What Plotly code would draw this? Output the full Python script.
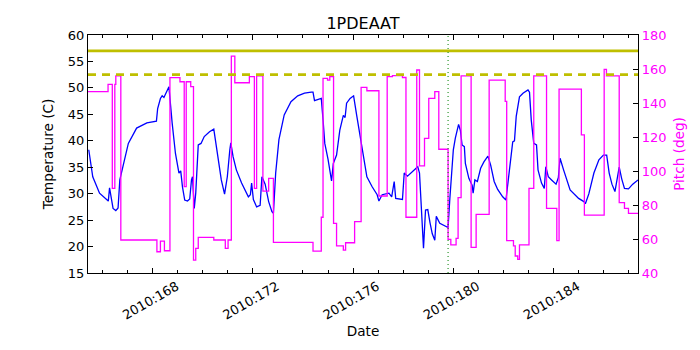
import plotly.graph_objects as go

# temperature trace (day of year 2010, deg C)
temp_day = [165.45, 165.61, 165.88, 166.18, 166.23, 166.28, 166.35, 166.42, 166.53, 166.62,
            166.69, 166.83, 167.03, 167.36, 167.77, 168.15, 168.20, 168.31, 168.38, 168.45,
            168.51, 168.65, 168.78, 168.91, 169.05, 169.12, 169.19, 169.28, 169.39, 169.48,
            169.55, 169.59, 169.66, 169.72, 169.82, 169.93, 170.06, 170.27, 170.44, 170.60,
            170.74, 170.87, 170.98, 171.08, 171.12, 171.21, 171.34, 171.55, 171.82, 171.90,
            171.95, 172.02, 172.15, 172.29, 172.36, 172.49, 172.63, 172.76, 172.82, 172.91,
            173.04, 173.25, 173.52, 173.79, 174.06, 174.33, 174.40, 174.46, 174.66, 174.73,
            174.80, 174.87, 175.00, 175.14, 175.21, 175.34, 175.47, 175.61, 175.68, 175.74,
            175.88, 176.02, 176.15, 176.28, 176.42, 176.55, 176.76, 176.96, 177.03, 177.16,
            177.43, 177.54, 177.64, 177.70, 177.97, 178.04, 178.17, 178.38, 178.58, 178.65,
            178.75, 178.81, 178.89, 178.98, 179.07, 179.16, 179.26, 179.32, 179.46, 179.79,
            179.86, 180.00, 180.08, 180.21, 180.28, 180.35, 180.44, 180.48, 180.62, 180.75,
            180.79, 180.86, 180.96, 181.09, 181.22, 181.38, 181.49, 181.63, 181.77, 181.97,
            182.10, 182.23, 182.37, 182.44, 182.51, 182.64, 182.78, 182.98, 183.04, 183.11,
            183.21, 183.32, 183.38, 183.52, 183.63, 183.69, 183.79, 183.92, 184.10, 184.19,
            184.26, 184.40, 184.66, 185.00, 185.21, 185.27, 185.41, 185.61, 185.81, 185.99,
            186.12, 186.22, 186.33, 186.45, 186.55, 186.62, 186.72, 186.83, 186.99, 187.16,
            187.37]
temp = [38.3, 33.2, 30.1, 28.8, 28.6, 31.1, 28.7, 27.2, 26.8, 27.3,
        32.6, 35.7, 39.5, 42.4, 43.4, 43.7, 46.1, 48.0, 48.5, 48.2,
        48.9, 50.2, 43.3, 37.6, 33.9, 34.3, 31.3, 28.8, 28.6, 29.0,
        32.6, 33.2, 27.2, 30.1, 39.2, 39.5, 40.8, 41.7, 42.2, 37.0,
        32.6, 29.9, 33.2, 38.3, 39.6, 37.0, 34.5, 32.0, 29.4, 29.8,
        32.0, 28.9, 27.5, 27.8, 33.2, 31.8, 28.5, 26.6, 26.3, 33.9,
        40.2, 44.9, 47.4, 48.5, 49.0, 49.2, 49.2, 47.6, 47.8, 48.0,
        44.0, 39.5, 36.5, 32.4, 35.7, 37.3, 42.0, 44.8, 44.4, 47.1,
        48.0, 48.5, 44.6, 41.1, 37.0, 33.2, 31.3, 29.8, 28.6, 29.8,
        30.1, 29.4, 32.3, 29.1, 28.9, 33.9, 33.3, 34.2, 35.1, 33.9,
        23.1, 19.7, 26.9, 27.0, 24.5, 22.4, 21.2, 25.7, 24.4, 23.6,
        29.0, 38.3, 40.5, 43.1, 42.0, 39.2, 38.9, 35.7, 32.9, 31.6,
        30.1, 32.6, 32.3, 34.8, 36.0, 37.1, 35.4, 32.3, 30.8, 29.4,
        28.8, 33.9, 39.8, 40.0, 44.6, 48.3, 49.0, 49.6, 49.2, 43.9,
        39.5, 39.2, 34.5, 32.0, 31.0, 35.1, 33.2, 32.6, 31.8, 33.0,
        36.7, 34.5, 30.7, 29.1, 28.5, 28.1, 30.0, 33.9, 36.4, 37.3,
        37.3, 33.9, 31.8, 30.4, 33.5, 35.0, 32.8, 31.0, 30.9, 31.8,
        32.6]

# pitch (step changes)
pitch_day = [165.40, 166.22, 166.39, 166.49, 166.53, 166.73, 168.17, 168.31, 168.47, 168.69,
             169.09, 169.26, 169.34, 169.52, 169.63, 169.72, 169.82, 170.44, 170.90, 171.01,
             171.14, 171.28, 171.86, 172.06, 172.15, 172.40, 172.63, 172.82, 174.40, 174.73,
             174.80, 174.98, 175.07, 175.22, 175.34, 175.61, 175.70, 176.06, 176.32, 176.55,
             177.03, 177.36, 177.57, 177.97, 178.11, 178.54, 178.65, 178.85, 179.02, 179.26,
             179.42, 179.79, 179.90, 180.11, 180.19, 180.31, 180.71, 180.91, 181.43, 182.07,
             182.13, 182.40, 182.47, 182.57, 182.64, 183.02, 183.21, 183.72, 184.13, 184.22,
             185.11, 185.23, 186.02, 186.11, 186.62, 186.83, 186.99, 187.40]
pitch = [146.7, 151.0, 89.8, 151.0, 155.9, 59.4, 52.5, 58.8, 53.1, 154.9,
         152.5, 90.8, 152.5, 149.6, 47.6, 54.5, 61.0, 59.4, 54.5, 59.4,
         167.6, 151.9, 155.5, 89.8, 155.9, 88.2, 95.7, 58.0, 52.9, 72.8,
         154.5, 153.5, 155.5, 69.2, 55.9, 53.5, 57.8, 70.2, 149.2, 147.2,
         85.3, 155.5, 156.1, 155.0, 72.8, 159.4, 103.0, 119.2, 142.7, 146.7,
         112.8, 59.8, 56.5, 60.4, 84.3, 155.9, 55.1, 74.5, 153.5, 141.0,
         59.0, 55.9, 50.0, 48.0, 56.5, 89.8, 155.9, 78.0, 59.0, 148.2,
         121.2, 74.1, 159.8, 155.9, 81.4, 78.0, 75.1, 75.1]

planning_limit = 52.5
caution_limit = 57.0
event_day = 179.79

tick_days = [168, 172, 176, 180, 184]
tick_text = ["2010:%d" % d for d in tick_days]

fig = go.Figure()
fig.add_trace(go.Scatter(x=temp_day, y=temp, mode="lines",
                         line=dict(color="#0000ff", width=1.3), yaxis="y"))
fig.add_trace(go.Scatter(x=pitch_day, y=pitch, mode="lines", line_shape="hv",
                         line=dict(color="#ff00ff", width=1.3), yaxis="y2"))

fig.add_hline(y=caution_limit, line=dict(color="#bfbf00", width=2.6))
fig.add_hline(y=planning_limit, line=dict(color="#bfbf00", width=2.6, dash="8px,6px"))
fig.add_vline(x=event_day, line=dict(color="#008000", width=1, dash="1px,3px"))

font = "DejaVu Sans, Arial, sans-serif"
# page body has an 8px margin, so the figure is a bit smaller and margins shifted
fig.update_layout(
    width=692, height=342,
    margin=dict(l=80, r=62, t=27, b=77, autoexpand=False),
    paper_bgcolor="white", plot_bgcolor="white",
    showlegend=False,
    font=dict(family=font, size=13, color="black"),
    title=dict(text="1PDEAAT", x=0.5, xanchor="center", xref="paper",
               y=0.955, yanchor="middle", font=dict(size=16)),
    xaxis=dict(range=[165.42, 187.37], tickvals=tick_days, ticktext=tick_text,
               tickangle=-30, ticklabelshift=24, ticks="inside", ticklen=5, tickcolor="black",
               minor=dict(dtick=1, tick0=0, ticks="inside", ticklen=3, tickcolor="black"),
               showline=True, linecolor="black", linewidth=1.2, mirror="ticks",
               showgrid=False, zeroline=False, automargin=False,
               title=dict(text="Date", standoff=4, font=dict(size=13.6))),
    yaxis=dict(range=[15, 60], dtick=5, ticks="inside", ticklen=5, tickcolor="black",
               showline=True, linecolor="black", linewidth=1.2,
               showgrid=False, zeroline=False, automargin=False,
               title=dict(text="Temperature (C)", standoff=10, font=dict(size=13.6))),
    yaxis2=dict(range=[40, 180], dtick=20, ticks="inside", ticklen=5, tickcolor="black",
                overlaying="y", side="right", anchor="x",
                showline=True, linecolor="black", linewidth=1.2,
                showgrid=False, zeroline=False, automargin=False,
                tickfont=dict(color="#ff00ff"),
                title=dict(text="Pitch (deg)", font=dict(color="#ff00ff", size=13.6), standoff=8)),
)

fig.write_html("out.html")
